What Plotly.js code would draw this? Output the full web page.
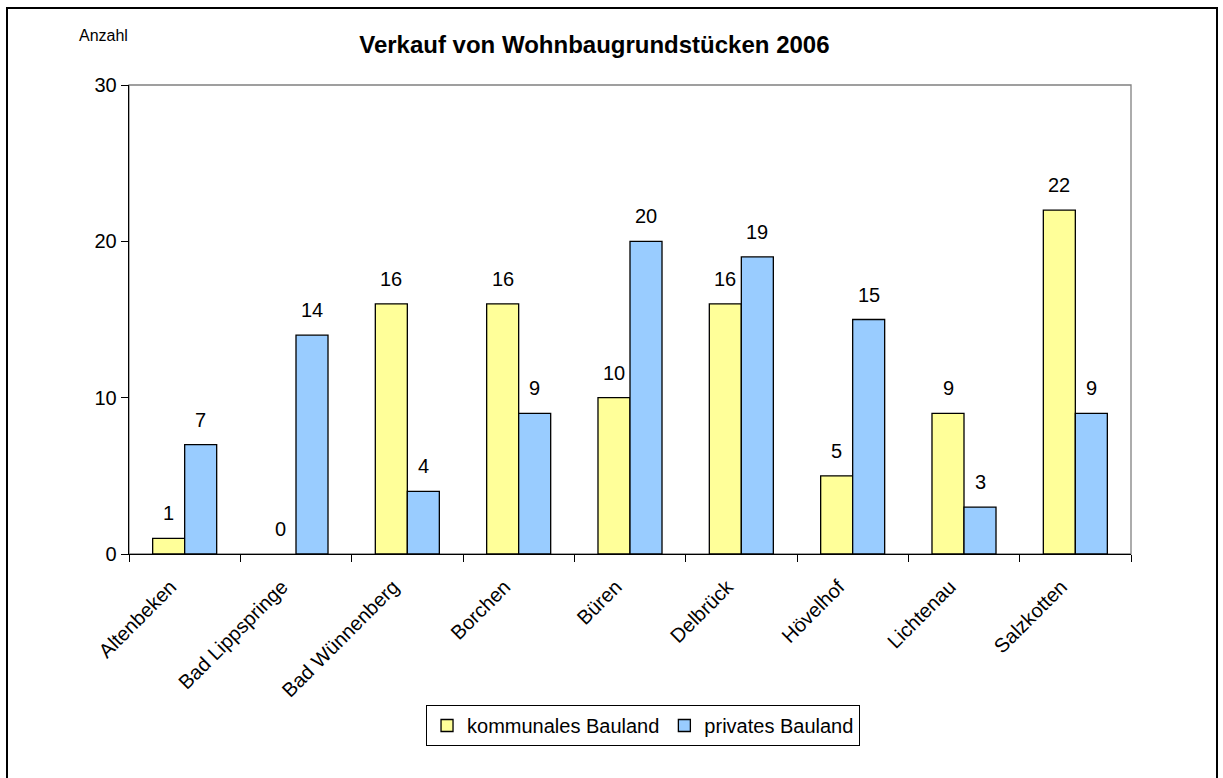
<!DOCTYPE html>
<html>
<head>
<meta charset="utf-8">
<script src="https://cdn.plot.ly/plotly-3.0.1.min.js"></script>
<style>
  html, body { margin: 0; padding: 0; background: #fff; }
  #wrap { position: relative; width: 1223px; height: 778px; }
  #chart { width: 1223px; height: 778px; }
  #frame { position: absolute; left: 6px; top: 7px; width: 1208px; height: 780px; border: 2px solid #000; pointer-events: none; }
</style>
</head>
<body>
<div id="wrap">
  <div id="chart"></div>
  <div id="frame"></div>
</div>
<script>
const categories = ["Altenbeken", "Bad Lippspringe", "Bad Wünnenberg", "Borchen", "Büren", "Delbrück", "Hövelhof", "Lichtenau", "Salzkotten"];
const kommunal = [1, 0, 16, 16, 10, 16, 5, 9, 22];
const privat = [7, 14, 4, 9, 20, 19, 15, 3, 9];
const seriesNames = ["kommunales Bauland", "privates Bauland"];
const yTicks = [0, 10, 20, 30];

const FONT = "Liberation Sans, Arial, sans-serif";
const lineW = vals => vals.map(v => (v === 0 ? 0 : 1.3));

const traces = [
  { type: "bar", name: seriesNames[0], x: categories, y: kommunal,
    marker: { color: "#FFFF99", line: { color: "#000", width: lineW(kommunal) } }, hoverinfo: "x+y" },
  { type: "bar", name: seriesNames[1], x: categories, y: privat,
    marker: { color: "#99CCFF", line: { color: "#000", width: lineW(privat) } }, hoverinfo: "x+y" }
];

const annotations = [];
categories.forEach((c, i) => {
  annotations.push({ x: c, y: kommunal[i], xref: "x", yref: "y", text: String(kommunal[i]),
    showarrow: false, xshift: -16, yshift: 25, yanchor: "middle", font: { family: FONT, size: 20, color: "#000" } });
  annotations.push({ x: c, y: privat[i], xref: "x", yref: "y", text: String(privat[i]),
    showarrow: false, xshift: 16, yshift: 25, yanchor: "middle", font: { family: FONT, size: 20, color: "#000" } });
});
annotations.push({ xref: "paper", yref: "paper", x: -0.052, y: 1.105, xanchor: "left", yanchor: "middle",
  text: "Anzahl", showarrow: false, font: { family: FONT, size: 16, color: "#000" } });

const layout = {
  width: 1223, height: 778,
  margin: { l: 129, r: 92, t: 85, b: 224 },
  paper_bgcolor: "#fff", plot_bgcolor: "#fff",
  font: { family: FONT, size: 20, color: "#000" },
  title: { text: "<b>Verkauf von Wohnbaugrundstücken 2006</b>", font: { family: FONT, size: 24, color: "#000" },
    x: 0.486, xanchor: "center", y: 0.943, yanchor: "middle" },
  barmode: "group", bargap: 0.425, bargroupgap: 0,
  xaxis: { type: "category", showgrid: false, zeroline: false, showline: true, linecolor: "#000", linewidth: 1.3,
    ticks: "outside", tickson: "boundaries", ticklen: 7, tickcolor: "#000", tickangle: -45,
    ticklabelstandoff: 12, ticklabelshift: -14,
    tickfont: { family: FONT, size: 20, color: "#000" } },
  yaxis: { range: [0, 30], tickvals: yTicks, showgrid: false, zeroline: false, showline: true, linecolor: "#000", linewidth: 1.3,
    ticks: "outside", ticklen: 7, tickcolor: "#000", tickfont: { family: FONT, size: 20, color: "#000" } },
  shapes: [{ type: "rect", xref: "paper", yref: "paper", x0: 0, x1: 1, y0: 0, y1: 1,
    line: { color: "#808080", width: 1.3 }, layer: "below" }],
  legend: { orientation: "h", x: 0.513, xanchor: "center", y: -0.322, yanchor: "top",
    bordercolor: "#000", borderwidth: 1, bgcolor: "#fff", font: { family: FONT, size: 20, color: "#000" },
    itemwidth: 30, tracegroupgap: 0 },
  annotations: annotations,
  showlegend: true
};

Plotly.newPlot("chart", traces, layout, { displayModeBar: false, staticPlot: true });
</script>
</body>
</html>
